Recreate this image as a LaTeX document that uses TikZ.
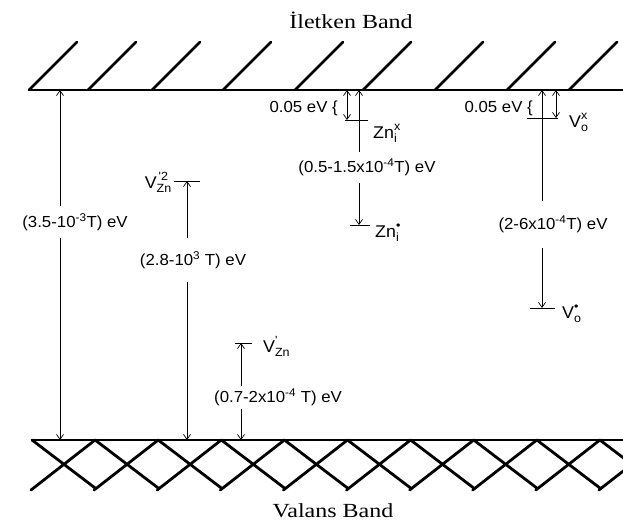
\documentclass[tikz,border=0pt]{standalone}
\usepackage{amsmath}
\usepackage{fontspec}
\setmainfont{Liberation Serif}
\newfontfamily\bandfont[FakeStretch=1.2]{Liberation Serif}
\newfontfamily\lblfont[FakeStretch=1.05]{Liberation Sans}
\usetikzlibrary{arrows.meta,positioning}

\begin{document}
\begin{tikzpicture}[x=1pt, y=-1pt, >={Straight Barb[length=5pt,width=7pt]},
  band/.style={line width=2.6pt},
  hatch/.style={line width=2.8pt, line cap=round},
  cross/.style={line width=2.8pt, line cap=round, line join=round},
  lvl/.style={line width=1pt},
  gap/.style={<->, line width=0.7pt},
  lbl/.style={font=\lblfont\fontsize{16}{18}\selectfont, inner sep=1pt},
  ev/.style={lbl, fill=white, inner xsep=2pt},
  spc/.style={lbl, font=\lblfont\fontsize{17}{19}\selectfont},
  title/.style={font=\bandfont\fontsize{20}{24}\selectfont}]
  \useasboundingbox (0,0) rectangle (623,527);

  % band edges
  \coordinate (cb) at (29,90);
  \coordinate (vb) at (32,440);
  \draw[band] (cb) -- (623,90);
  \draw[band] (vb) -- (623,440);
  \foreach \x in {29,88,152,223,295,363,435,507,569}
    \draw[hatch] (\x,90) -- ++(48,-48);
  \begin{scope}
    \clip (0,430) rectangle (623,500);
    \foreach \k in {0,...,9}
      \draw[cross] (32+63.1*\k,440) -- (95.1+63.1*\k,488)
                   (31+63.1*\k,490) -- (95.1+63.1*\k,440);
  \end{scope}
  \node[title] (iletken) at (351,20) {İletken Band};
  \node[title] (valans) at (333,511) {Valans Band};

  % levels
  \coordinate (eg) at (60,440);
  \coordinate (vzn2) at (187,181);
  \coordinate (vzn1) at (241,343);
  \coordinate (zni0) at (347,120);
  \coordinate (zni1) at (359,225);
  \coordinate (vo0) at (556,118);
  \coordinate (vo1) at (542,308);
  \draw[lvl] ([xshift=-13pt]vzn2) -- ([xshift=13pt]vzn2);
  \draw[lvl] ([xshift=-6pt]vzn1) -- ([xshift=11pt]vzn1);
  \draw[lvl] ([xshift=-2pt]zni0) -- ([xshift=21pt]zni0);
  \draw[lvl] ([xshift=-9pt]zni1) -- ([xshift=11pt]zni1);
  \draw[lvl] ([xshift=-29pt]vo0) -- ([xshift=2pt]vo0);
  \draw[lvl] ([xshift=-12pt]vo1) -- ([xshift=13pt]vo1);

  \draw[gap] (eg |- cb) -- (eg);
  \draw[gap] (vzn2) -- (vzn2 |- vb);
  \draw[gap] (vzn1) -- (vzn1 |- vb);
  \draw[gap] (zni0 |- cb) -- (zni0);
  \draw[gap] (zni1 |- cb) -- (zni1);
  \draw[gap] (vo0 |- cb) -- (vo0);
  \draw[gap] (vo1 |- cb) -- (vo1);

  % energies
  \node[ev, minimum height=32pt] (e-eg) at (75,222) {(3.5-10\textsuperscript{-3}T) eV};
  \node[ev, minimum height=44pt] (e-vzn2) at (193,260) {(2.8-10\textsuperscript{3} T) eV};
  \node[ev, minimum height=23pt] (e-vzn1) at (278,397) {(0.7-2x10\textsuperscript{-4} T) eV};
  \node[ev, minimum height=31pt] (e-zni) at (367,167) {(0.5-1.5x10\textsuperscript{-4}T) eV};
  \node[ev, minimum height=47pt] (e-vo) at (553,224) {(2-6x10\textsuperscript{-4}T) eV};
  \node[lbl, anchor=east] (s-zni) at (339,108) {0.05 eV \{};
  \node[lbl, anchor=east] (s-vo) at (534,108) {0.05 eV \{};

  % species
  \node[spc, anchor=base east] (n-vzn2) at (173,188) {$\text{V}^{\,\text{'2}}_{\text{Zn}}$};
  \node[spc, anchor=base west] (n-vzn1) at (262,352) {$\text{V}^{\text{'}}_{\text{Zn}}$};
  \node[spc, anchor=base west] (n-zni0) at (372,138) {$\text{Zn}^{\text{x}}_{\text{i}}$};
  \node[spc, anchor=base west] (n-zni1) at (374,237) {$\text{Zn}^{\text{\textbullet}}_{\text{i}}$};
  \node[spc, anchor=base west] (n-vo0) at (568,127) {$\text{V}^{\text{x}}_{\text{o}}$};
  \node[spc, anchor=base west] (n-vo1) at (561,318) {$\text{V}^{\text{\textbullet}}_{\text{o}}$};
\end{tikzpicture}
\end{document}
